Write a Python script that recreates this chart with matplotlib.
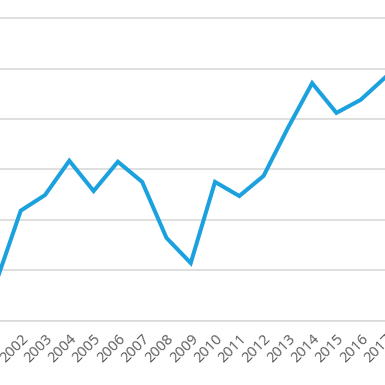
import matplotlib
matplotlib.use("Agg")
import matplotlib.pyplot as plt

years = list(range(2001, 2018))
values = [3.9, 10.9, 12.45, 15.85, 12.85, 15.75, 13.75, 8.2, 5.7, 13.75, 12.35, 14.35, 19.1, 23.55, 20.6, 21.9, 24.1]
label_years = list(range(2002, 2018))
y_ticks = [0, 5, 10, 15, 20, 25, 30]

fig = plt.figure(figsize=(3.85, 3.85), dpi=100)
ax = fig.add_axes([0, (385 - 320.5) / 385, 1, 320.5 / 385])
ax.plot(years, values, color="#1ba1dd", lw=2.9, solid_joinstyle="miter", zorder=3)
ax.set_xlim(2001.145, 2016.96)
ax.set_ylim(0, 31.8)
ax.set_yticks(y_ticks)
ax.set_yticklabels([])
ax.tick_params(axis="y", length=0)
ax.grid(axis="y", color="#d9d9d9", lw=1.2)
ax.set_xticks(label_years)
ax.set_xticklabels([str(y) for y in label_years], rotation=45, ha="right",
                   rotation_mode="anchor", fontsize=10.5, color="#595959",
                   family="Open Sans")
ax.tick_params(axis="x", length=0, pad=8)
for s in ["top", "left", "right"]:
    ax.spines[s].set_visible(False)
ax.spines["bottom"].set_color("#d9d9d9")
ax.spines["bottom"].set_linewidth(1.2)
fig.savefig("out.png", dpi=100)
